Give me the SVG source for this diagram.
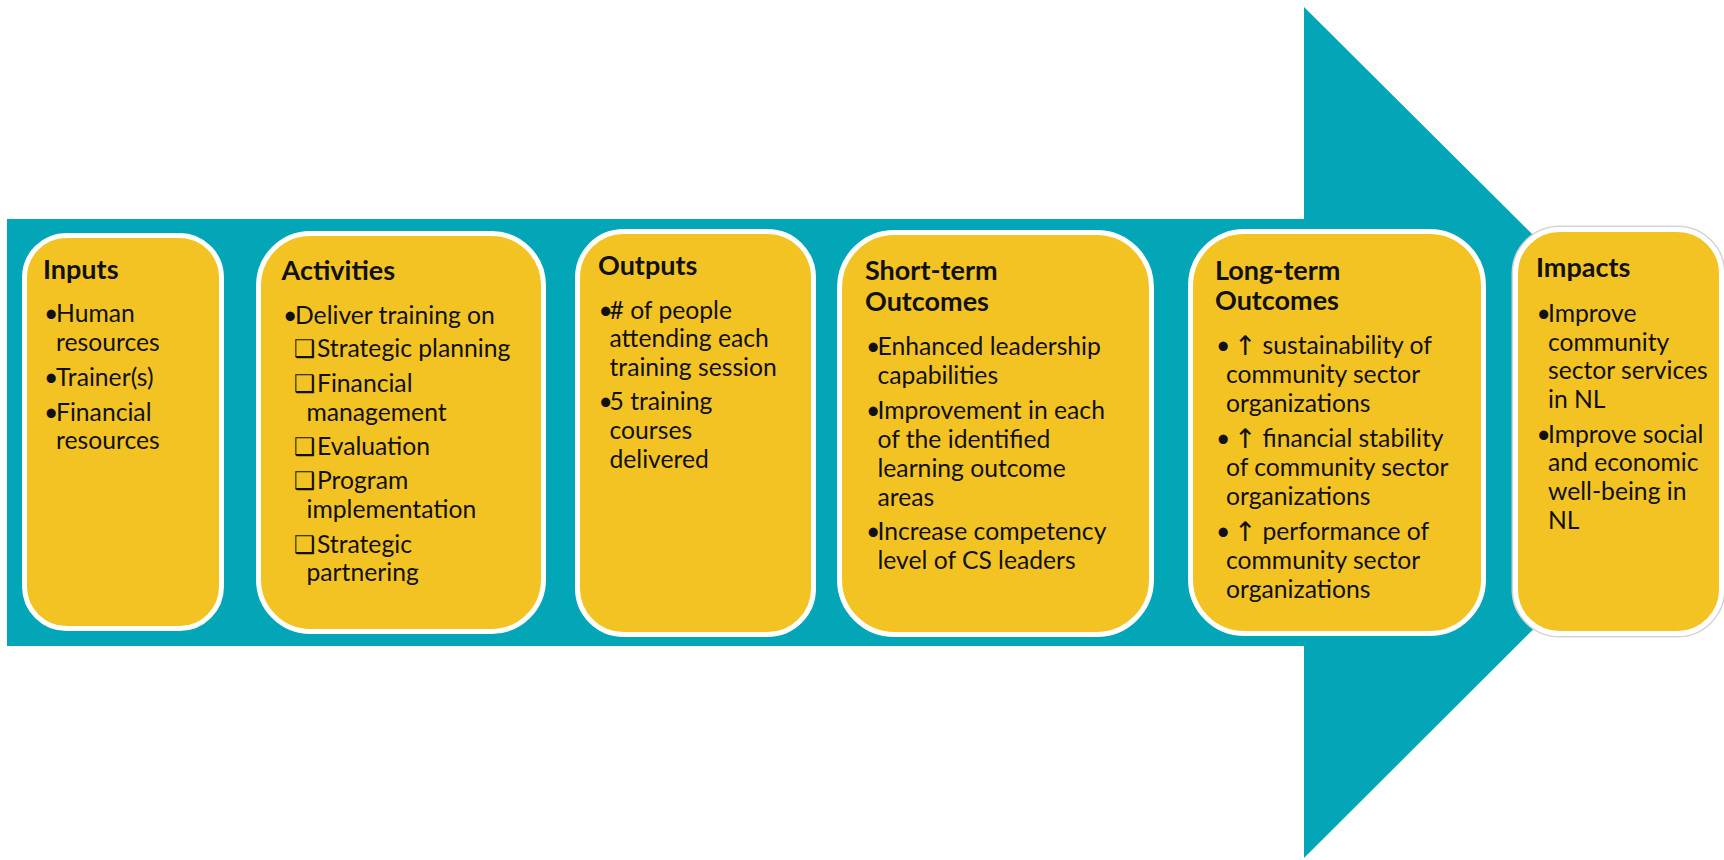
<svg xmlns="http://www.w3.org/2000/svg" width="1724" height="860" viewBox="0 0 1724 860">
  <defs>
    <style>
      .box { fill: #F3C324; stroke: #FFFFFF; stroke-width: 5; }
      .halo { fill: none; stroke: #D4D4D4; stroke-width: 8; }
      .title { font-family: Lato, "Open Sans", "DejaVu Sans", sans-serif; font-weight: 700; font-size: 27px; fill: #111111; }
      .body { font-family: Lato, "Open Sans", "DejaVu Sans", sans-serif; font-size: 24.7px; fill: #111111; }
      .sq { font-family: "DejaVu Sans", sans-serif; font-weight: 700; font-size: 24px; fill: #111111; }
      .up { font-family: "DejaVu Sans", sans-serif; font-size: 27px; fill: #111111; }
    </style>
  </defs>
  <rect width="1724" height="860" fill="#FFFFFF"/>

  <!-- big backdrop arrow -->
  <g id="flow-arrow">
    <polygon points="7,219 1304,219 1304,7 1731,432 1304,858 1304,646 7,646" fill="#02A6B7"/>
  </g>

  <g id="connectors"></g>

  <!-- Inputs -->
  <g id="node-inputs">
    <rect class="box" x="24.5" y="235.5" width="197" height="393" rx="42"/>
    <text class="title" x="43" y="279">Inputs</text>
    <text class="body" x="44" y="322">•</text>
    <text class="body" x="56" y="322">Human</text>
    <text class="body" x="56" y="350.5">resources</text>
    <text class="body" x="44" y="385.5">•</text>
    <text class="body" x="56" y="385.5">Trainer(s)</text>
    <text class="body" x="44" y="420.5">•</text>
    <text class="body" x="56" y="420.5">Financial</text>
    <text class="body" x="56" y="449">resources</text>
  </g>

  <!-- Activities -->
  <g id="node-activities">
    <rect class="box" x="258.5" y="233.5" width="285" height="398" rx="52"/>
    <text class="title" x="281.5" y="280">Activities</text>
    <text class="body" x="283" y="323.5">•</text>
    <text class="body" x="295" y="323.5">Deliver training on</text>
    <text class="sq" x="294" y="357">❑</text>
    <text class="body" x="317" y="357">Strategic planning</text>
    <text class="sq" x="294" y="391.5">❑</text>
    <text class="body" x="317" y="391.5">Financial</text>
    <text class="body" x="306.5" y="420.5">management</text>
    <text class="sq" x="294" y="455">❑</text>
    <text class="body" x="317" y="455">Evaluation</text>
    <text class="sq" x="294" y="489">❑</text>
    <text class="body" x="317" y="489">Program</text>
    <text class="body" x="306.5" y="517.5">implementation</text>
    <text class="sq" x="294" y="552.5">❑</text>
    <text class="body" x="317" y="552.5">Strategic</text>
    <text class="body" x="306.5" y="581">partnering</text>
  </g>

  <!-- Outputs -->
  <g id="node-outputs">
    <rect class="box" x="577.5" y="231.5" width="236" height="403" rx="46"/>
    <text class="title" x="598" y="275">Outputs</text>
    <text class="body" x="598.5" y="318.5">•</text>
    <text class="body" x="609.5" y="318.5"># of people</text>
    <text class="body" x="609.5" y="347">attending each</text>
    <text class="body" x="609.5" y="375.5">training session</text>
    <text class="body" x="598.5" y="409.5">•</text>
    <text class="body" x="609.5" y="409.5">5 training</text>
    <text class="body" x="609.5" y="438.5">courses</text>
    <text class="body" x="609.5" y="467.5">delivered</text>
  </g>

  <!-- Short-term Outcomes -->
  <g id="node-short-term">
    <rect class="box" x="839.5" y="232.5" width="312" height="402" rx="55"/>
    <text class="title" x="865" y="280">Short-term</text>
    <text class="title" x="865" y="311">Outcomes</text>
    <text class="body" x="866" y="354.5">•</text>
    <text class="body" x="877.5" y="354.5">Enhanced leadership</text>
    <text class="body" x="877.5" y="383.5">capabilities</text>
    <text class="body" x="866" y="418.5">•</text>
    <text class="body" x="877.5" y="418.5">Improvement in each</text>
    <text class="body" x="877.5" y="447.5">of the identified</text>
    <text class="body" x="877.5" y="476.5">learning outcome</text>
    <text class="body" x="877.5" y="505.5">areas</text>
    <text class="body" x="866" y="540">•</text>
    <text class="body" x="877.5" y="540">Increase competency</text>
    <text class="body" x="877.5" y="569">level of CS leaders</text>
  </g>

  <!-- Long-term Outcomes -->
  <g id="node-long-term">
    <rect class="box" x="1190.5" y="231.5" width="293" height="402" rx="54"/>
    <text class="title" x="1215" y="279.5">Long-term</text>
    <text class="title" x="1215" y="310">Outcomes</text>
    <text class="body" x="1216" y="353.5">•</text>
    <text class="up" x="1234" y="354.5">↑</text>
    <text class="body" x="1262.5" y="353.5">sustainability of</text>
    <text class="body" x="1226" y="382.5">community sector</text>
    <text class="body" x="1226" y="411.5">organizations</text>
    <text class="body" x="1216" y="446.5">•</text>
    <text class="up" x="1234" y="447.5">↑</text>
    <text class="body" x="1262.5" y="446.5">financial stability</text>
    <text class="body" x="1226" y="475.5">of community sector</text>
    <text class="body" x="1226" y="504.5">organizations</text>
    <text class="body" x="1216" y="539.5">•</text>
    <text class="up" x="1234" y="540.5">↑</text>
    <text class="body" x="1262.5" y="539.5">performance of</text>
    <text class="body" x="1226" y="568.5">community sector</text>
    <text class="body" x="1226" y="597.5">organizations</text>
  </g>

  <!-- Impacts -->
  <g id="node-impacts">
    <rect class="halo" x="1515.5" y="229.5" width="206" height="404" rx="44"/>
    <rect class="box" x="1515.5" y="229.5" width="206" height="404" rx="44"/>
    <text class="title" x="1536" y="277">Impacts</text>
    <text class="body" x="1536.5" y="322">•</text>
    <text class="body" x="1548" y="322">Improve</text>
    <text class="body" x="1548" y="350.5">community</text>
    <text class="body" x="1548" y="379">sector services</text>
    <text class="body" x="1548" y="407.5">in NL</text>
    <text class="body" x="1536.5" y="442.5">•</text>
    <text class="body" x="1548" y="442.5">Improve social</text>
    <text class="body" x="1548" y="471">and economic</text>
    <text class="body" x="1548" y="499.5">well-being in</text>
    <text class="body" x="1548" y="529">NL</text>
  </g>
</svg>
